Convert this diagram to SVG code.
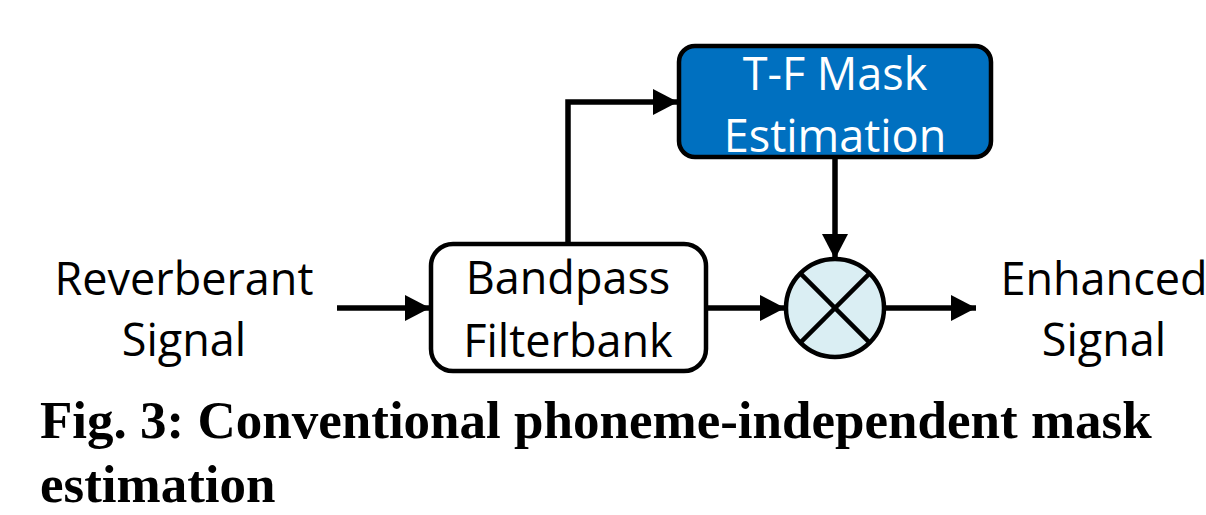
<svg xmlns="http://www.w3.org/2000/svg" width="1206" height="515" viewBox="0 0 1206 515">
<defs>
<marker id="ah" markerUnits="userSpaceOnUse" markerWidth="26" markerHeight="26" viewBox="0 0 26 26" refX="25" refY="13" orient="auto">
<path d="M0,0 L25,13 L0,26 Z" fill="#000"/>
</marker>
<style>
.lbl{font-family:"Open Sans","Liberation Sans",sans-serif;font-size:45px;fill:#000;text-anchor:middle}
.wlbl{fill:#fff}
.box{stroke:#000;stroke-width:4.5}
.conn{fill:none;stroke:#000;stroke-width:5.5}
.cap{font-family:"Liberation Serif","Times New Roman",serif;font-weight:bold;font-size:53px;fill:#000}
</style>
</defs>
<rect width="1206" height="515" fill="#fff"/>
<g id="connectors">
<line class="conn" x1="337" y1="308" x2="430" y2="308" marker-end="url(#ah)"/>
<polyline class="conn" points="568,243 568,102 678,102" marker-end="url(#ah)"/>
<line class="conn" x1="707" y1="308" x2="785" y2="308" marker-end="url(#ah)"/>
<line class="conn" x1="835" y1="158" x2="835" y2="259" marker-end="url(#ah)"/>
<line class="conn" x1="883" y1="308" x2="976" y2="308" marker-end="url(#ah)"/>
</g>
<g id="input">
<text class="lbl" x="184" y="295">Reverberant</text>
<text class="lbl" x="184" y="356">Signal</text>
</g>
<g id="bandpass">
<rect class="box" x="431" y="244" width="275" height="127" rx="22" fill="#fff"/>
<text class="lbl" x="568" y="294">Bandpass</text>
<text class="lbl" x="568" y="357">Filterbank</text>
</g>
<g id="mask">
<rect class="box" x="679" y="46" width="312" height="111" rx="16" fill="#0070C0"/>
<text class="lbl wlbl" x="835" y="90">T-F Mask</text>
<text class="lbl wlbl" x="835" y="152">Estimation</text>
</g>
<g id="multiplier">
<circle class="box" cx="835" cy="308" r="49" fill="#DAEEF3"/>
<line x1="800.4" y1="273.4" x2="869.6" y2="342.6" stroke="#000" stroke-width="4.5"/>
<line x1="869.6" y1="273.4" x2="800.4" y2="342.6" stroke="#000" stroke-width="4.5"/>
</g>
<g id="output">
<text class="lbl" x="1104" y="295">Enhanced</text>
<text class="lbl" x="1104" y="356">Signal</text>
</g>
<g id="caption">
<text class="cap" x="40" y="438">Fig. 3: Conventional phoneme-independent mask</text>
<text class="cap" x="40" y="502">estimation</text>
</g>
</svg>
